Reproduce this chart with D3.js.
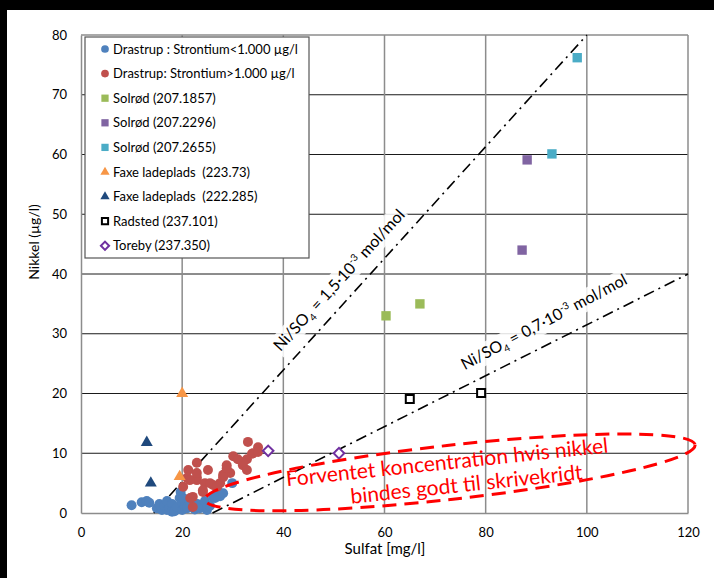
<!DOCTYPE html>
<html>
<head>
<meta charset="utf-8">
<script src="https://cdn.jsdelivr.net/npm/d3@7"></script>
<style>
  html, body { margin: 0; padding: 0; background: #000; }
  svg { display: block; }
  text { font-family: Lato, "Liberation Sans", sans-serif; }
</style>
</head>
<body>
<svg id="chart" width="714" height="578"></svg>
<script>
// --- data ---
const xTicks = [0, 20, 40, 60, 80, 100, 120]
const yTicks = [0, 10, 20, 30, 40, 50, 60, 70, 80]

const drastrupLow = [
    [10, 1.3], [12, 1.8], [13, 2.0], [13.5, 1.7], [15, 0.8], [15.5, 1.5], [16, 0.5],
    [16.5, 1.2], [17, 2.0], [17, 0.5], [17.5, 0.8], [18, 1.5], [18, 0.2], [18.5, 0.3],
    [19, 1.0], [19.5, 2.5], [19.7, 3.5], [20, 0.5], [20, 1.8], [20.2, 2.5], [20.5, 1.0],
    [21, 0.8], [21, 1.0], [21.5, 2.0], [22, 1.2], [22.5, 0.6], [23, 1.5], [23.5, 0.8],
    [24, 1.2], [24.5, 2.0], [24.9, 0.5], [25, 1.0], [25.5, 1.2], [26.1, 2.7], [26.5, 2.5],
    [27, 3.8], [27.5, 2.8], [28.1, 3.3], [29.9, 5.0]
]
const drastrupHigh = [
    [33, 11.9], [35, 11.0], [33.8, 9.9], [30.1, 9.5], [32.8, 9.0], [32, 8.0], [28.8, 8.0],
    [25.1, 7.2], [22.9, 8.4], [21.2, 7.2], [21, 5.9], [22.9, 5.5], [24.5, 5.0], [26.1, 4.7],
    [28.1, 6.4], [29.5, 6.7], [27.5, 5.0], [24.1, 3.5], [22.1, 2.7], [22.1, 1.0], [28.8, 7.5],
    [28.1, 6.0], [22.9, 6.0], [20.2, 4.4], [25.5, 5.0], [24.1, 3.8], [21.6, 2.5], [26.9, 4.4],
    [32, 8.5], [34, 10.0], [35, 10.2], [32.8, 7.2], [22.9, 6.7], [21.5, 5.5], [31, 9.0]
]
const solrod1857 = [[60.3, 33], [67, 35]]
const solrod2296 = [[88.2, 59.1], [87.2, 44]]
const solrod2655 = [[98.1, 76.2], [93.1, 60.1]]
const faxe7373 = [[20, 20], [19.5, 6.1]]
const faxe222285 = [[13, 11.8], [13.8, 5.0]]
const radsted = [[65, 19.1], [79.1, 20.1]]
const toreby = [[37, 10.4], [51, 10.0]]

// reference lines Ni/SO4
const ratioHigh = [[14.4, 0], [100, 80]]
const ratioLow = [[26, 0], [120, 40]]

// annotation ellipse: left end, right end (data units)
const ellipseEnds = [[24.5, 2.2], [121.4, 11.4]]

const series = [
    { name: "Drastrup : Strontium<1.000 µg/l", data: drastrupLow, shape: "circle", color: "#4f81bd" },
    { name: "Drastrup: Strontium>1.000 µg/l", data: drastrupHigh, shape: "circle", color: "#c0504d" },
    { name: "Solrød (207.1857)", data: solrod1857, shape: "square", color: "#9bbb59" },
    { name: "Solrød (207.2296)", data: solrod2296, shape: "square", color: "#8064a2" },
    { name: "Solrød (207.2655)", data: solrod2655, shape: "square", color: "#4bacc6" },
    { name: "Faxe ladeplads  (223.73)", data: faxe7373, shape: "triangle", color: "#f79646" },
    { name: "Faxe ladeplads  (222.285)", data: faxe222285, shape: "triangle", color: "#1f497d" },
    { name: "Radsted (237.101)", data: radsted, shape: "openSquare", color: "#000" },
    { name: "Toreby (237.350)", data: toreby, shape: "openDiamond", color: "#7030a0" },
]

const svg = d3.select("#chart")

// white panel
svg.append("rect").attr("x", 7).attr("y", 10).attr("width", 707).attr("height", 568).attr("fill", "#fff")

const x = d3.scaleLinear().domain([0, 120]).range([81, 688])
const y = d3.scaleLinear().domain([0, 80]).range([513, 35])

// grid
const grid = svg.append("g")
grid.selectAll("line.h")
    .data(yTicks.filter(d => d > 0))
    .enter().append("line")
    .attr("x1", x(0)).attr("x2", x(120))
    .attr("y1", d => y(d)).attr("y2", d => y(d))
    .attr("stroke", d => d === 80 ? "#8c8c8c" : "#1a1a1a")
    .attr("stroke-width", d => d === 80 ? 1.5 : 1)
grid.selectAll("line.v")
    .data(xTicks.filter(d => d > 0))
    .enter().append("line")
    .attr("y1", y(0)).attr("y2", y(80))
    .attr("x1", d => x(d)).attr("x2", d => x(d))
    .attr("stroke", "#8c8c8c")
    .attr("stroke-width", 1.5)

// axes
const xAxis = svg.append("g")
    .attr("transform", `translate(0,${y(0)})`)
    .call(d3.axisBottom(x).tickValues(xTicks).tickSize(0).tickPadding(15))
const yAxis = svg.append("g")
    .attr("transform", `translate(${x(0)},0)`)
    .call(d3.axisLeft(y).tickValues(yTicks).tickSize(0).tickPadding(14))
for (const ax of [xAxis, yAxis]) {
    ax.select(".domain").attr("stroke", "#8c8c8c").attr("stroke-width", 1.5)
    ax.selectAll("text").attr("font-size", 13).attr("fill", "#000").attr("font-family", "Lato")
}

// line labels (with white boxes), drawn before the lines
function ratioLabel(pos, angle, value) {
    const g = svg.append("g").attr("transform", `translate(${pos[0]},${pos[1]}) rotate(${angle})`)
    const bg = g.append("rect").attr("fill", "#fff").attr("opacity", 0.85)
    const t = g.append("text")
        .attr("text-anchor", "middle")
        .attr("dy", "0.35em")
        .attr("font-size", 16)
        .attr("font-family", "Lato")
    t.append("tspan").text("Ni/SO")
    t.append("tspan").text("4").attr("font-size", 10).attr("dy", 4)
    t.append("tspan").text(" = " + value + "·10").attr("dy", -4)
    t.append("tspan").text("-3").attr("font-size", 10).attr("dy", -6)
    t.append("tspan").text(" mol/mol").attr("dy", 6)
    const bb = t.node().getBBox()
    bg.attr("x", bb.x - 2).attr("y", bb.y).attr("width", bb.width + 4).attr("height", bb.height)
}
ratioLabel([x(51), y(39)], -47.5, "1,5")
ratioLabel([x(91.5), y(32)], -28, "0,7")

// ratio lines
const line = d3.line().x(d => x(d[0])).y(d => y(d[1]))
svg.selectAll("path.ratio")
    .data([ratioHigh, ratioLow])
    .enter().append("path")
    .attr("d", line)
    .attr("fill", "none")
    .attr("stroke", "#000")
    .attr("stroke-width", 1.6)
    .attr("stroke-dasharray", "11,5,2,5")

// markers
function makeSymbols(scale) {
    return {
        circle: d3.symbol().type(d3.symbolCircle).size(78 * scale),
        square: d3.symbol().type(d3.symbolSquare).size(88 * scale),
        triangle: d3.symbol().type(d3.symbolTriangle).size(62 * scale),
        openSquare: d3.symbol().type(d3.symbolSquare).size(64 * scale),
        openDiamond: d3.symbol().type(d3.symbolSquare).size(56 * scale),
    }
}
function drawMarker(sel, s, syms) {
    const open = s.shape.startsWith("open")
    sel.attr("d", syms[s.shape]())
        .attr("fill", open ? "#fff" : s.color)
        .attr("stroke", open ? s.color : "none")
        .attr("stroke-width", open ? 2 : 0)
}
const plotSyms = makeSymbols(1)
for (const s of series) {
    svg.append("g").selectAll("path")
        .data(s.data)
        .enter().append("path")
        .attr("transform", d => `translate(${x(d[0])},${y(d[1])})` + (s.shape === "openDiamond" ? " rotate(45)" : ""))
        .call(drawMarker, s, plotSyms)
}

// annotation ellipse
const p0 = [x(ellipseEnds[0][0]), y(ellipseEnds[0][1])]
const p1 = [x(ellipseEnds[1][0]), y(ellipseEnds[1][1])]
const cx = (p0[0] + p1[0]) / 2, cy = (p0[1] + p1[1]) / 2
const rx = Math.hypot(p1[0] - p0[0], p1[1] - p0[1]) / 2
const ang = Math.atan2(p1[1] - p0[1], p1[0] - p0[0]) * 180 / Math.PI
svg.append("ellipse")
    .attr("cx", cx).attr("cy", cy).attr("rx", rx).attr("ry", 27)
    .attr("transform", `rotate(${ang},${cx},${cy})`)
    .attr("fill", "none")
    .attr("stroke", "#ff0000")
    .attr("stroke-width", 3)
    .attr("stroke-dasharray", "14,8")

const note = svg.append("text")
    .attr("transform", `translate(${x(72.5)},${y(7.3)}) rotate(-6)`)
    .attr("text-anchor", "middle")
    .attr("font-family", "Liberation Sans")
    .attr("font-size", 21)
    .attr("fill", "#ff0000")
note.append("tspan").attr("x", 0).attr("dy", 0).text("Forventet koncentration hvis nikkel")
note.append("tspan").attr("x", 17).attr("dy", 24).text("bindes godt til skrivekridt")

// axis titles
svg.append("text")
    .attr("x", 385).attr("y", 554)
    .attr("text-anchor", "middle")
    .attr("font-size", 15)
    .text("Sulfat [mg/l]")
svg.append("text")
    .attr("transform", "translate(39,242) rotate(-90)")
    .attr("text-anchor", "middle")
    .attr("font-size", 14)
    .text("Nikkel (µg/l)")

// legend
const legend = svg.append("g").attr("transform", "translate(85,37)")
legend.append("rect")
    .attr("width", 224).attr("height", 221)
    .attr("fill", "#fff")
    .attr("stroke", "#555")
    .attr("stroke-width", 1.2)
const legendSyms = makeSymbols(0.6)
const item = legend.selectAll("g.item")
    .data(series)
    .enter().append("g")
    .attr("transform", (d, i) => `translate(0,${12 + i * 24.6})`)
item.append("path")
    .each(function (d) {
        d3.select(this)
            .attr("transform", "translate(20,0)" + (d.shape === "openDiamond" ? " rotate(45)" : ""))
            .call(drawMarker, d, legendSyms)
    })
item.append("text")
    .attr("x", 28)
    .attr("dy", "0.35em")
    .attr("font-size", 13)
    .attr("xml:space", "preserve")
    .text(d => d.name)
</script>
</body>
</html>
